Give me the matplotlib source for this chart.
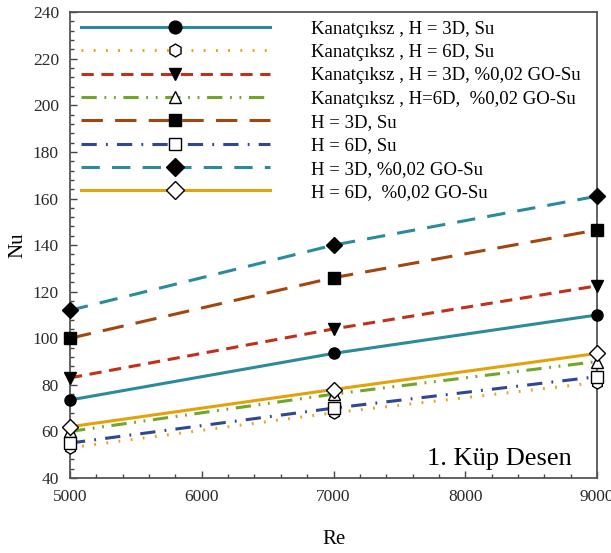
import matplotlib
matplotlib.use("Agg")
import matplotlib.pyplot as plt
from matplotlib.ticker import MultipleLocator

plt.rcParams['font.family'] = ['Liberation Serif', 'DejaVu Serif']

re_vals = [5000, 7000, 9000]
labels = [
    "Kanatçıksz , H = 3D, Su",
    "Kanatçıksz , H = 6D, Su",
    "Kanatçıksz , H = 3D, %0,02 GO-Su",
    "Kanatçıksz , H=6D,  %0,02 GO-Su",
    "H = 3D, Su",
    "H = 6D, Su",
    "H = 3D, %0,02 GO-Su",
    "H = 6D,  %0,02 GO-Su",
]
nu_k3_su = [73.5, 93.5, 110]
nu_k6_su = [53, 68, 81]
nu_k3_go = [83, 104, 122.5]
nu_k6_go = [60, 76, 90]
nu_h3_su = [100, 126, 146.5]
nu_h6_su = [55, 70, 83.5]
nu_h3_go = [112, 140, 161]
nu_h6_go = [62, 78, 93.5]
series = [nu_k3_su, nu_k6_su, nu_k3_go, nu_k6_go, nu_h3_su, nu_h6_su, nu_h3_go, nu_h6_go]

styles = [
    dict(color="#2b8a9b", ls="-", marker="o", mfc="black", mec="black"),
    dict(color="#eba21e", ls=(0, (0.6, 3.4)), marker="h", mfc="white", mec="black"),
    dict(color="#c0311a", ls=(0, (4, 2.5)), marker="v", mfc="black", mec="black"),
    dict(color="#72a52c", ls=(0, (5, 2.5, 0.6, 2.5, 0.6, 2.5)), marker="^", mfc="white", mec="black"),
    dict(color="#a2450f", ls=(0, (7, 4)), marker="s", mfc="black", mec="black"),
    dict(color="#30488f", ls=(0, (5, 3, 0.6, 3)), marker="s", mfc="white", mec="black"),
    dict(color="#2b8a9b", ls=(0, (6, 4)), marker="D", mfc="black", mec="black"),
    dict(color="#e3a20a", ls="-", marker="D", mfc="white", mec="black"),
]

fig = plt.figure(figsize=(6.11, 5.53), dpi=100)
ax = fig.add_axes([0.1146, 0.1356, 0.8625, 0.8424])

for y, lab, st in zip(series, labels, styles):
    ax.plot(re_vals, y, color=st["color"], linestyle=st["ls"], linewidth=2.2,
            marker=st["marker"], markersize=8, markerfacecolor=st["mfc"],
            markeredgecolor=st["mec"], markeredgewidth=1.0, clip_on=False,
            label=lab, zorder=3)

ax.set_xlim(5000, 9000)
ax.set_ylim(40, 240)
ax.xaxis.set_major_locator(MultipleLocator(1000))
ax.xaxis.set_minor_locator(MultipleLocator(200))
ax.yaxis.set_major_locator(MultipleLocator(20))
ax.yaxis.set_minor_locator(MultipleLocator(4))
ax.tick_params(which="both", direction="in", top=False, right=False,
               labelsize=12.5, labelcolor="#2a2a2a", color="#444444")
ax.tick_params(which="major", length=5, width=1)
ax.tick_params(which="minor", length=3, width=1)
ax.tick_params(axis="x", which="major", pad=8)
ax.tick_params(axis="y", which="major", pad=8)
for s in ax.spines.values():
    s.set_color("#555555")
    s.set_linewidth(1.3)

ax.set_xlabel("Re", fontsize=15, labelpad=18)
ax.set_ylabel("Nu", fontsize=15, labelpad=4)

leg = ax.legend(loc="upper left", bbox_to_anchor=(0.006, 0.998), frameon=False,
                fontsize=13.5, handlelength=10.1, handletextpad=2.2,
                numpoints=1, labelspacing=0.33, borderaxespad=0.0,
                markerscale=1.15)

ax.text(0.953, 0.018, "1. Küp Desen", transform=ax.transAxes, fontsize=19,
        ha="right", va="bottom")

fig.savefig("out.png", dpi=100)
